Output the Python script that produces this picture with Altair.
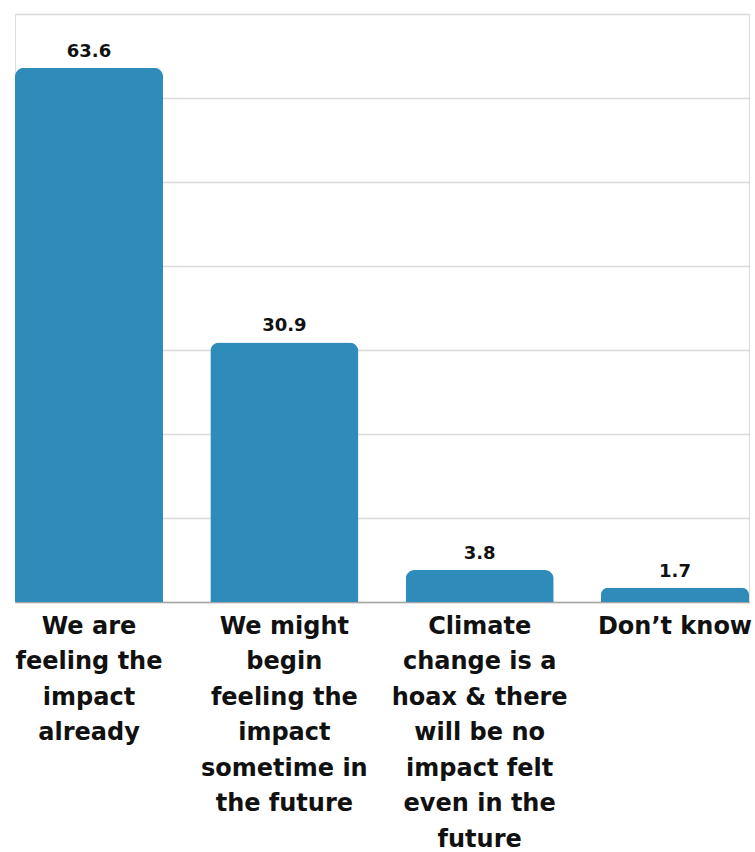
import altair as alt
import pandas as pd

categories = [
    "We are feeling the impact already",
    "We might begin feeling the impact sometime in the future",
    "Climate change is a hoax & there will be no impact felt even in the future",
    "Don\u2019t know",
]
label_lines = [
    "We are|feeling the|impact|already",
    "We might|begin|feeling the|impact|sometime in|the future",
    "Climate|change is a|hoax & there|will be no|impact felt|even in the|future",
    "Don\u2019t know",
]
values = [63.6, 30.9, 3.8, 1.7]
value_text = ["63.6", "30.9", "3.8", "1.7"]
grid_ticks = [0, 10, 20, 30, 40, 50, 60, 70]

df = pd.DataFrame({"cat": label_lines, "value": values, "txt": value_text})

FONT = "DejaVu Sans"
BLUE = "#2E8BBA"

x = alt.X(
    "cat:N",
    sort=label_lines,
    title=None,
    scale=alt.Scale(paddingInner=0.242, paddingOuter=0),
    axis=alt.Axis(
        labelExpr="split(datum.label, '|')",
        labelAngle=0,
        labelFont=FONT,
        labelFontSize=24,
        labelFontWeight="bold",
        labelColor="#111111",
        labelLineHeight=35.5,
        labelLimit=0,
        labelPadding=12,
        labelBaseline="top",
        ticks=False,
        domainColor="#a6a6a6",
        domainWidth=1.5,
        grid=False,
    ),
)
y = alt.Y(
    "value:Q",
    title=None,
    scale=alt.Scale(domain=[0, 70], nice=False),
    axis=alt.Axis(
        values=grid_ticks,
        labels=False,
        ticks=False,
        domain=False,
        grid=True,
        gridColor="#d9d9d9",
        gridWidth=1.5,
    ),
)

bars = alt.Chart(df).mark_bar(
    color=BLUE, cornerRadiusTopLeft=9, cornerRadiusTopRight=9
).encode(x=x, y=y)

texts = alt.Chart(df).mark_text(
    font=FONT, fontSize=18, fontWeight="bold", color="#111111", baseline="bottom", dy=-7
).encode(x=alt.X("cat:N", sort=label_lines), y="value:Q", text="txt:N")

chart = (
    alt.layer(bars, texts)
    .properties(
        width=734,
        height=588,
        padding={"left": 15, "top": 14, "right": 6, "bottom": 250},
        autosize=alt.AutoSizeParams(type="none"),
    )
    .configure_view(stroke=None)
    .configure(background="white")
)

chart.save("out.html", embed_options={"renderer": "svg", "actions": False})
